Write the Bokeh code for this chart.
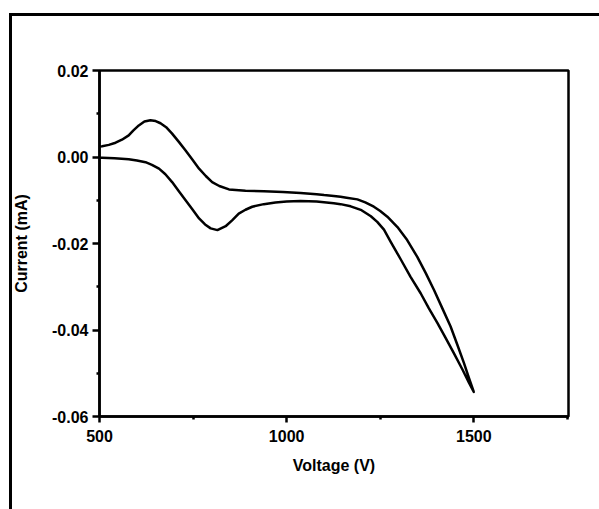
from bokeh.plotting import figure
from bokeh.models import Range1d, FixedTicker, NumeralTickFormatter, InlineStyleSheet
from bokeh.embed import file_html
from bokeh.resources import INLINE

# Forward scan (lower branch), 500 V -> 1500 V
fwd_v = [500, 507, 540, 578, 600, 623, 640, 659, 676, 694, 712, 730, 748, 766,
         782, 797, 815, 837, 855, 872, 890, 908, 939, 970, 1000, 1037, 1080,
         1126, 1144, 1171, 1200, 1225, 1242, 1260, 1278, 1305, 1331, 1358, 1380,
         1403, 1425, 1447, 1470, 1487, 1500]
fwd_i = [-0.0002, -0.0002, -0.0003, -0.0005, -0.0008, -0.0012, -0.0018, -0.0027,
         -0.0040, -0.0058, -0.0079, -0.0100, -0.0121, -0.0142, -0.0156, -0.0165,
         -0.0169, -0.0160, -0.0146, -0.0131, -0.0122, -0.0115, -0.0109, -0.0105,
         -0.0103, -0.0102, -0.0103, -0.0107, -0.0109, -0.0114, -0.0123, -0.0137,
         -0.0150, -0.0168, -0.0196, -0.0237, -0.0277, -0.0315, -0.0350, -0.0384,
         -0.0419, -0.0454, -0.0492, -0.0522, -0.0543]

# Reverse scan (upper branch), 1500 V -> 500 V
rev_v = [1500, 1487, 1474, 1456, 1438, 1416, 1394, 1372, 1349, 1322, 1296, 1269,
         1250, 1233, 1210, 1189, 1160, 1144, 1126, 1100, 1080, 1037, 990, 939,
         890, 846, 820, 801, 784, 766, 748, 730, 712, 694, 678, 663, 650, 636,
         620, 605, 590, 578, 560, 543, 525, 507, 500]
rev_i = [-0.0543, -0.0511, -0.0477, -0.0434, -0.0392, -0.0350, -0.0308, -0.0269,
         -0.0231, -0.0192, -0.0162, -0.0138, -0.0125, -0.0115, -0.0105, -0.0098,
         -0.0094, -0.0092, -0.0090, -0.0088, -0.0086, -0.0083, -0.0081, -0.0079,
         -0.0078, -0.0075, -0.0067, -0.0058, -0.0044, -0.0027, -0.0006, 0.0015,
         0.0035, 0.0054, 0.0069, 0.0078, 0.0083, 0.0085, 0.0082, 0.0073, 0.0061,
         0.0050, 0.0040, 0.0033, 0.0028, 0.0025, 0.0024]

x_ticks = [500, 1000, 1500]
x_minor = [750, 1250, 1750]
y_ticks = [-0.06, -0.04, -0.02, 0.0, 0.02]
y_minor = [-0.05, -0.03, -0.01, 0.01]

p = figure(width=599, height=509, output_backend="svg", toolbar_location=None,
           x_range=Range1d(500, 1753), y_range=Range1d(-0.06, 0.02),
           min_border_left=99, min_border_right=31, min_border_top=70,
           min_border_bottom=93)
p.background_fill_color = "white"
p.border_fill_color = "white"
p.grid.visible = False
p.outline_line_color = "black"
p.outline_line_width = 2.5

p.line(fwd_v + rev_v, fwd_i + rev_i, line_color="black", line_width=2.5,
       line_join="round")

font = "Liberation Sans"
for ax in (p.xaxis[0], p.yaxis[0]):
    ax.axis_line_width = 2.5
    ax.axis_line_color = "black"
    ax.major_tick_line_width = 2.5
    ax.minor_tick_line_width = 2.5
    ax.major_tick_line_color = "black"
    ax.minor_tick_line_color = "black"
    ax.major_tick_in = 0
    ax.minor_tick_in = 0
    ax.minor_tick_out = 3
    ax.major_label_text_font = font
    ax.major_label_text_font_style = "bold"
    ax.major_label_text_font_size = "16px"
    ax.major_label_text_color = "black"
    ax.axis_label_text_font = font
    ax.axis_label_text_font_style = "bold"
    ax.axis_label_text_font_size = "16px"
    ax.axis_label_text_color = "black"

p.xaxis.ticker = FixedTicker(ticks=x_ticks, minor_ticks=x_minor)
p.yaxis.ticker = FixedTicker(ticks=y_ticks, minor_ticks=y_minor)
p.xaxis.formatter = NumeralTickFormatter(format="0")
p.yaxis.formatter = NumeralTickFormatter(format="0.00")
p.xaxis.major_tick_out = 6
p.yaxis.major_tick_out = 7
p.xaxis.major_label_standoff = 7
p.yaxis.major_label_standoff = 4
p.xaxis.axis_label = "Voltage (V)"
p.yaxis.axis_label = "Current (mA)"
p.xaxis.axis_label_standoff = 12
p.yaxis.axis_label_standoff = 19

p.stylesheets = [InlineStyleSheet(css="""
:host { position: relative; }
:host::after {
  content: ""; position: absolute; left: 9px; top: 13px; right: 0; bottom: 0;
  border-top: 3px solid black; border-left: 3px solid black;
  pointer-events: none; box-sizing: border-box;
}
""")]

open("out.html", "w").write(file_html(p, INLINE))
